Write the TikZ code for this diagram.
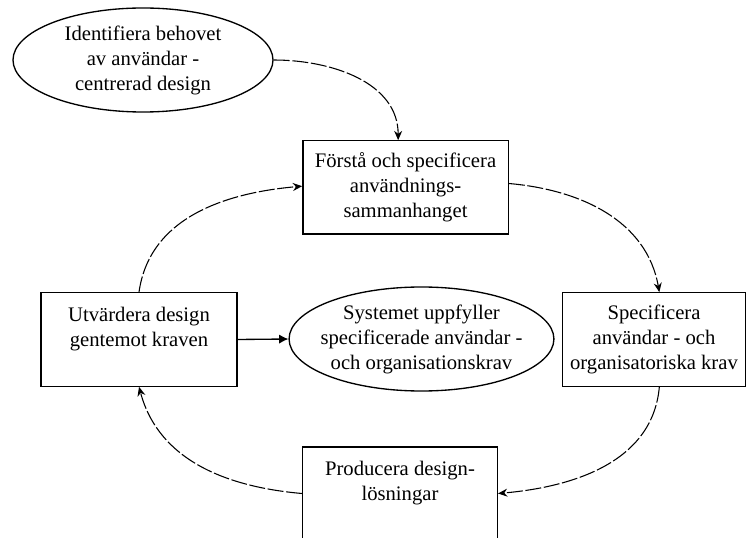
\documentclass[tikz,border=0pt]{standalone}
\usepackage{fontspec}
\setmainfont{Liberation Serif}
\usepackage{tikz}
\usetikzlibrary{arrows.meta,shapes.geometric}
\tikzset{
  >={Stealth[length=7pt,width=6pt]},
  stepbox/.style={draw,line width=1pt,minimum width=#1,minimum height=70pt,
    inner sep=0pt,align=center,font=\fontsize{15.5}{18.75}\selectfont},
  goalbox/.style={ellipse,draw,line width=1pt,minimum width=195pt,minimum height=78pt,
    inner sep=0pt,align=center,font=\fontsize{15.5}{18.75}\selectfont},
  loop/.style={->,line width=.8pt,dash pattern=on 12pt off 2pt},
  done/.style={-{Latex[length=7pt,width=7pt]},line width=1pt},
}

\begin{document}
\begin{tikzpicture}[x=.75pt,y=.75pt]
  \clip (0,0) rectangle (746,-538);

  \node[goalbox] (need) at (143,-60) {Identifiera behovet\\av användar -\\centrerad design};
  \node[stepbox=154pt] (context) at (405.5,-187.5)
    {Förstå och specificera\\användnings-\\sammanhanget};
  \node[stepbox=137pt] (reqs) at (654,-339.5)
    {Specificera\\användar - och\\organisatoriska krav};
  \node[stepbox=147pt] (evaluate) at (139,-339.5)
    {Utvärdera design\\gentemot kraven\\\mbox{}};
  \node[stepbox=146pt] (produce) at (400,-493.5)
    {Producera design-\\lösningar\\\mbox{}};
  \node[goalbox,minimum width=193pt,inner xsep=-5.5pt] (goal) at (421.5,-339)
    {Systemet uppfyller\\specificerade användar -\\och organisationskrav};

  \draw[loop] (need.east) to[out=0,in=90] ([xshift=-5.5pt]context.north);
  \draw[loop] ([yshift=3pt]context.east) to[out=-5,in=100] ([xshift=4pt]reqs.north);
  \draw[loop] ([xshift=4pt]reqs.south) to[out=-95,in=5] (produce.east);
  \draw[loop] (produce.west) to[out=175,in=-75] (evaluate.south);
  \draw[loop] (evaluate.north) to[out=82,in=185] ([yshift=1pt]context.west);
  \draw[done] (evaluate.east) -- (goal.west);
\end{tikzpicture}
\end{document}
